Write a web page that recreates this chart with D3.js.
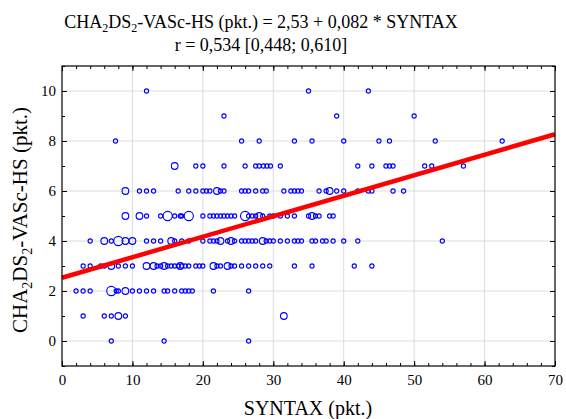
<!DOCTYPE html>
<html>
<head>
<meta charset="utf-8">
<script src="https://cdn.jsdelivr.net/npm/d3@7"></script>
<style>
  body { margin: 0; background: #fff; }
</style>
</head>
<body>
<svg width="566" height="419"></svg>
<script>
// SYNTAX values for each CHA2DS2-VASc-HS score (repeated value = overlapping patients)
const score0 = [7, 14.5, 26.5];
const score1 = [3, 6, 7, 8, 8, 9, 31.5, 31.5];
const score2 = [2, 3, 4, 7, 7, 7, 7.7, 8, 9, 9, 10, 11, 12, 13, 14.5, 15, 16, 17, 17.5, 18, 18.5, 21.5, 26.5];
const score3 = [3, 4, 5.5, 6, 7, 7, 8, 9, 10, 12, 12, 13, 13, 13.5, 14, 14.5, 14.5, 15, 15.5, 16, 16.5, 17, 17.5, 18,
  16.8, 16.8, 19, 19.5, 20, 21.5, 21.5, 22, 22.5, 23.5, 23.5, 24, 24.5, 25.5, 26.5, 27.5, 28.5, 29.5, 33, 35.5, 41.5, 44];
const score4 = [4, 6, 6, 7, 8, 8, 8, 9, 9, 10, 10, 12, 13, 14, 15.5, 15.5, 16, 17, 18, 20, 21, 21.5, 22, 22.5, 22.5,
  23.5, 24, 24, 24.5, 25.5, 26, 26.5, 27, 27.5, 28.5, 28.5, 29, 29.5, 30, 31, 32, 33, 33.5, 34, 35.5, 36, 37, 37.5,
  38.5, 40, 42, 54];
const score5 = [9, 9, 11, 11, 12, 14, 15, 15, 15, 16, 17, 18, 16.8, 18, 18, 20, 21, 21.5, 22, 22.5, 23, 23.5, 24, 24.5,
  26, 26, 26, 26.5, 27, 27.5, 28, 28, 28.5, 29.5, 30, 31, 32, 33, 35, 35.5, 35.5, 36, 36.5, 38, 38.5];
const score6 = [9, 9, 11, 12, 13, 16.5, 18, 19, 20, 20.5, 21, 22, 22, 22.5, 23, 25.5, 26, 26.5, 27.5, 28.5, 29, 31.5,
  32.5, 33, 33.5, 34, 36.5, 37.5, 38, 38, 39, 40, 42, 43.5, 44, 47, 48.5];
const score7 = [16, 16, 19, 20, 23, 26, 27.5, 28, 28.6, 29.1, 29.6, 31, 42, 44, 46, 46.5, 47, 51.5, 52.5, 57];
const score8 = [7.6, 25.5, 28, 33, 35.5, 40, 45, 46.5, 53, 62.5];
const score9 = [23, 39, 50];
const score10 = [12, 35, 43.5];

const scoreRows = [score0, score1, score2, score3, score4, score5, score6, score7, score8, score9, score10];

// regression: score = 2.53 + 0.082 * SYNTAX
const intercept = 2.53;
const slope = 0.082;

const xTicks = [0, 10, 20, 30, 40, 50, 60, 70];
const yTicks = [0, 2, 4, 6, 8, 10];

const svg = d3.select("svg");
const plot = { left: 62, right: 555, top: 66, bottom: 366 };
const serif = "'Liberation Serif', 'Times New Roman', Tinos, 'DejaVu Serif', serif";

const x = d3.scaleLinear().domain([0, 70]).range([plot.left, plot.right]);
const y = d3.scaleLinear().domain([-1, 11]).range([plot.bottom, plot.top]);

// gridlines
svg.append("g")
  .selectAll("line")
  .data(xTicks.slice(1, -1))
  .join("line")
  .attr("x1", (d) => x(d)).attr("x2", (d) => x(d))
  .attr("y1", plot.top).attr("y2", plot.bottom)
  .attr("stroke", "#dcdcdc").attr("stroke-width", 1);

svg.append("g")
  .selectAll("line")
  .data(yTicks)
  .join("line")
  .attr("x1", plot.left).attr("x2", plot.right)
  .attr("y1", (d) => y(d)).attr("y2", (d) => y(d))
  .attr("stroke", "#dcdcdc").attr("stroke-width", 1);

// points: count overlapping patients for circle size
const points = [];
scoreRows.forEach((row, score) => {
  d3.rollup(row, (v) => v.length, (d) => d).forEach((n, sx) => {
    points.push({ x: sx, y: score, n: n });
  });
});

const r = d3.scaleLinear().domain([1, 3]).range([2.1, 4.6]);

svg.append("g")
  .selectAll("circle")
  .data(points)
  .join("circle")
  .attr("cx", (d) => x(d.x))
  .attr("cy", (d) => y(d.y))
  .attr("r", (d) => r(d.n))
  .attr("fill", "none")
  .attr("stroke", "#0000ff")
  .attr("stroke-width", 1.1);

// regression line
svg.append("line")
  .attr("x1", x(0)).attr("y1", y(intercept))
  .attr("x2", x(70)).attr("y2", y(intercept + slope * 70))
  .attr("stroke", "#ff0000")
  .attr("stroke-width", 4.5);

// axes with inward ticks
const xMinor = d3.range(0, 71, 2);
const yMinor = d3.range(-1, 12, 1);

function tickAxis(axis, values, size) {
  return axis.tickValues(values).tickSize(size).tickFormat("");
}

svg.append("g").attr("transform", `translate(0,${plot.bottom})`)
  .call(tickAxis(d3.axisBottom(x), xMinor, -3));
svg.append("g").attr("transform", `translate(0,${plot.bottom})`)
  .call(d3.axisBottom(x).tickValues(xTicks).tickSize(-5).tickPadding(8));
svg.append("g").attr("transform", `translate(0,${plot.top})`)
  .call(tickAxis(d3.axisTop(x), xMinor, -3));
svg.append("g").attr("transform", `translate(0,${plot.top})`)
  .call(tickAxis(d3.axisTop(x), xTicks, -5));

svg.append("g").attr("transform", `translate(${plot.left},0)`)
  .call(tickAxis(d3.axisLeft(y), yMinor, -3));
svg.append("g").attr("transform", `translate(${plot.left},0)`)
  .call(d3.axisLeft(y).tickValues(yTicks).tickSize(-5).tickPadding(6));
svg.append("g").attr("transform", `translate(${plot.right},0)`)
  .call(tickAxis(d3.axisRight(y), yMinor, -3));
svg.append("g").attr("transform", `translate(${plot.right},0)`)
  .call(tickAxis(d3.axisRight(y), yTicks, -5));

svg.selectAll(".domain").remove();
svg.selectAll(".tick line").attr("stroke", "#000");
svg.selectAll(".tick text")
  .style("font-family", serif)
  .attr("font-size", 15)
  .attr("fill", "#000");

svg.append("rect")
  .attr("x", plot.left).attr("y", plot.top)
  .attr("width", plot.right - plot.left).attr("height", plot.bottom - plot.top)
  .attr("fill", "none").attr("stroke", "#000").attr("stroke-width", 1.2);

// titles
const title = svg.append("text")
  .attr("x", 261).attr("y", 28)
  .attr("text-anchor", "middle")
  .style("font-family", serif)
  .attr("font-size", 18);
title.append("tspan").text("CHA");
title.append("tspan").attr("font-size", 12).attr("dy", 4).text("2");
title.append("tspan").attr("dy", -4).text("DS");
title.append("tspan").attr("font-size", 12).attr("dy", 4).text("2");
title.append("tspan").attr("dy", -4).text("-VASc-HS (pkt.) = 2,53 + 0,082 * SYNTAX");

svg.append("text")
  .attr("x", 261).attr("y", 51)
  .attr("text-anchor", "middle")
  .style("font-family", serif)
  .attr("font-size", 18)
  .text("r = 0,534 [0,448; 0,610]");

svg.append("text")
  .attr("x", 308).attr("y", 415)
  .attr("text-anchor", "middle")
  .style("font-family", serif)
  .attr("font-size", 20)
  .text("SYNTAX (pkt.)");

const yTitle = svg.append("text")
  .attr("transform", `translate(27,220) rotate(-90)`)
  .attr("text-anchor", "middle")
  .style("font-family", serif)
  .attr("font-size", 21);
yTitle.append("tspan").text("CHA");
yTitle.append("tspan").attr("font-size", 14).attr("dy", 5).text("2");
yTitle.append("tspan").attr("dy", -5).text("DS");
yTitle.append("tspan").attr("font-size", 14).attr("dy", 5).text("2");
yTitle.append("tspan").attr("dy", -5).text("-VASc-HS (pkt.)");
</script>
</body>
</html>
